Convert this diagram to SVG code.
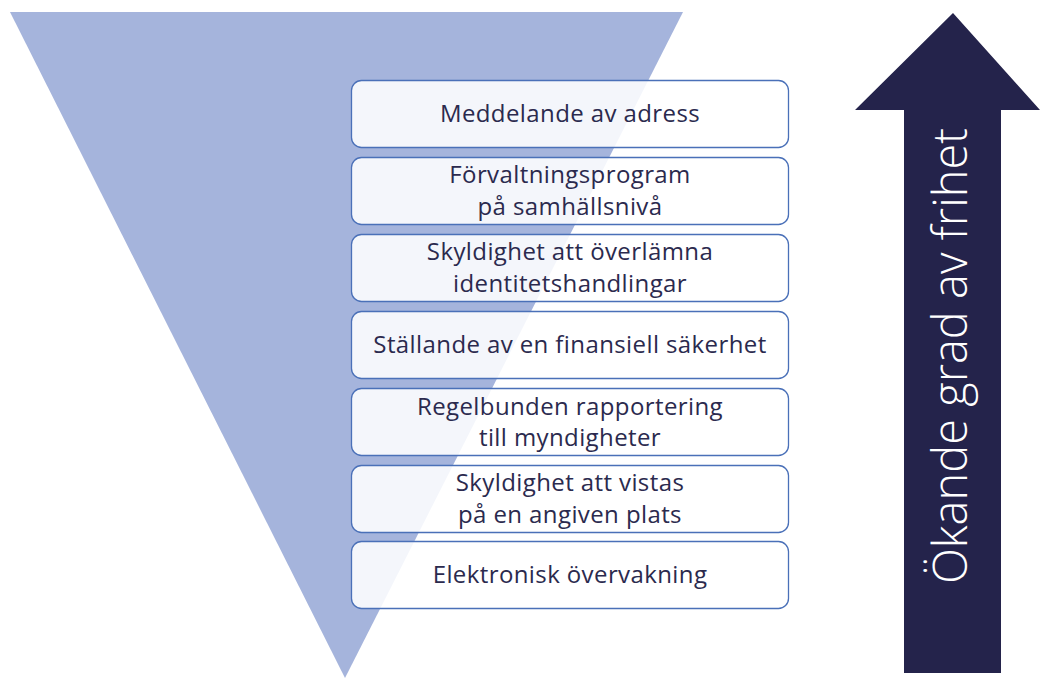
<svg xmlns="http://www.w3.org/2000/svg" width="1040" height="678" viewBox="0 0 1040 678">
  <style>
    .box rect { fill: #ffffff; fill-opacity: 0.88; stroke: #4a70b8; stroke-width: 1.3; }
    .box text { font-family: "Open Sans", "Liberation Sans", sans-serif; font-size: 24px; letter-spacing: 0.4px; fill: #2b2a4e; text-anchor: middle; }
    .arrow-label { font-family: "Open Sans", "Liberation Sans", sans-serif; font-weight: 300; font-size: 47px; fill: #ffffff; text-anchor: middle; }
  </style>
  <rect width="1040" height="678" fill="#ffffff"/>

  <!-- inverted funnel behind the list -->
  <polygon id="funnel" points="10,12 683,12 345,678" fill="#a5b4dc"/>

  <!-- arrow pointing upwards -->
  <g id="arrow">
    <polygon points="953,13 1040,110 1001,110 1001,673 904,673 904,110 855,110" fill="#24234b"/>
    <text class="arrow-label" transform="translate(967,356) rotate(-90)">Ökande grad av frihet</text>
  </g>

  <g id="measures">
    <g id="m1" class="box">
      <rect x="351.5" y="80.5" width="437" height="67" rx="10"/>
      <text x="570" y="121.5">Meddelande av adress</text>
    </g>
    <g id="m2" class="box">
      <rect x="351.5" y="157.5" width="437" height="67" rx="10"/>
      <text x="570" y="183">Förvaltningsprogram</text>
      <text x="570" y="214.5">på samhällsnivå</text>
    </g>
    <g id="m3" class="box">
      <rect x="351.5" y="234.5" width="437" height="67" rx="10"/>
      <text x="570" y="260">Skyldighet att överlämna</text>
      <text x="570" y="291.5">identitetshandlingar</text>
    </g>
    <g id="m4" class="box">
      <rect x="351.5" y="311.5" width="437" height="67" rx="10"/>
      <text x="570" y="353">Ställande av en finansiell säkerhet</text>
    </g>
    <g id="m5" class="box">
      <rect x="351.5" y="388.5" width="437" height="67" rx="10"/>
      <text x="570" y="414.5">Regelbunden rapportering</text>
      <text x="570" y="446">till myndigheter</text>
    </g>
    <g id="m6" class="box">
      <rect x="351.5" y="465.5" width="437" height="67" rx="10"/>
      <text x="570" y="491">Skyldighet att vistas</text>
      <text x="570" y="522.5">på en angiven plats</text>
    </g>
    <g id="m7" class="box">
      <rect x="351.5" y="541.5" width="437" height="67" rx="10"/>
      <text x="570" y="582.5">Elektronisk övervakning</text>
    </g>
  </g>
</svg>
